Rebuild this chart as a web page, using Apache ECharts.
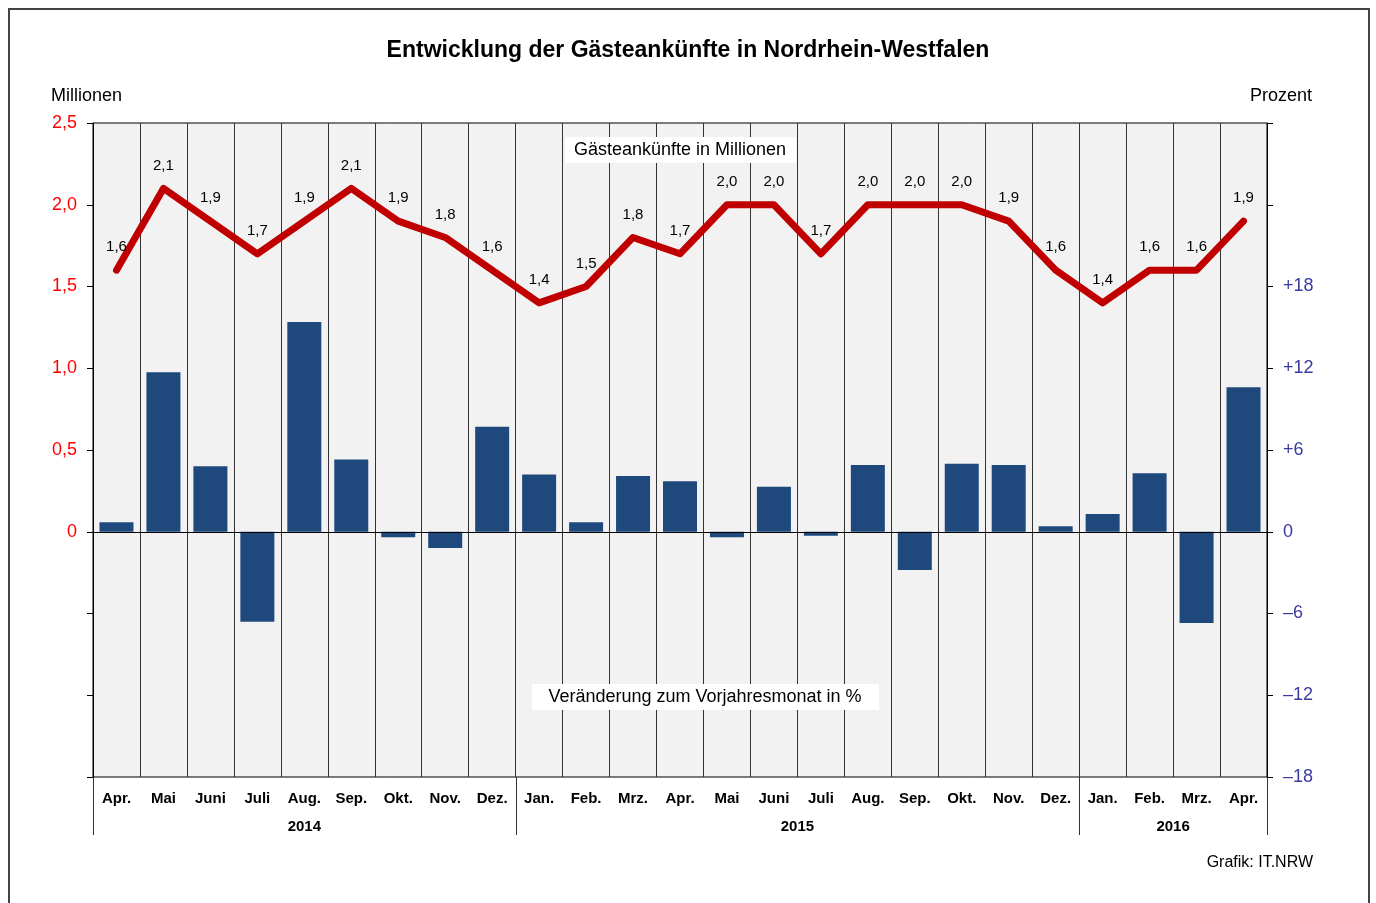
<!DOCTYPE html>
<html lang="de">
<head>
<meta charset="utf-8">
<title>Gästeankünfte NRW</title>
<script src="https://cdn.jsdelivr.net/npm/echarts@6/dist/echarts.min.js"></script>
<style>
  html, body { margin: 0; padding: 0; background: #fff; }
  #main { width: 1376px; height: 903px; }
</style>
</head>
<body>
<div id="main"></div>
<script>
// Monate April 2014 bis April 2016
var months = ['Apr.', 'Mai', 'Juni', 'Juli', 'Aug.', 'Sep.', 'Okt.', 'Nov.', 'Dez.',
  'Jan.', 'Feb.', 'Mrz.', 'Apr.', 'Mai', 'Juni', 'Juli', 'Aug.', 'Sep.', 'Okt.', 'Nov.', 'Dez.',
  'Jan.', 'Feb.', 'Mrz.', 'Apr.'];
// Gästeankünfte in Millionen
var arrivals = [1.6, 2.1, 1.9, 1.7, 1.9, 2.1, 1.9, 1.8, 1.6,
  1.4, 1.5, 1.8, 1.7, 2.0, 2.0, 1.7, 2.0, 2.0, 2.0, 1.9, 1.6,
  1.4, 1.6, 1.6, 1.9];
// Veränderung zum Vorjahresmonat in %
var change = [0.7, 11.7, 4.8, -6.6, 15.4, 5.3, -0.4, -1.2, 7.7,
  4.2, 0.7, 4.1, 3.7, -0.4, 3.3, -0.3, 4.9, -2.8, 5.0, 4.9, 0.4,
  1.3, 4.3, -6.7, 10.6];
// Jahre und Grenzen (Monatsindex)
var years = ['2014', '2015', '2016'];
var yearBounds = [0, 9, 21, 25];

var font = 'Liberation Sans, Arial, sans-serif';
var yearCenters = [];
for (var i = 0; i < years.length; i++) {
  yearCenters.push((yearBounds[i] + yearBounds[i + 1]) / 2);
}

var myChart = echarts.init(document.getElementById('main'));

var option = {
  animation: false,
  backgroundColor: '#fff',
  textStyle: { fontFamily: font },
  title: {
    text: 'Entwicklung der Gästeankünfte in Nordrhein-Westfalen',
    left: 'center',
    top: 34,
    textStyle: { fontSize: 23, fontWeight: 'bold', color: '#000', fontFamily: font }
  },
  grid: {
    left: 93, right: 109, top: 123, bottom: 126,
    show: true, backgroundColor: '#f2f2f2', borderColor: '#000', borderWidth: 1
  },
  xAxis: [{
    type: 'category',
    data: months,
    position: 'bottom',
    axisLine: { show: true, lineStyle: { color: '#000' } },
    axisTick: { show: false },
    splitLine: { show: true, lineStyle: { color: '#333', width: 1 } },
    axisLabel: { margin: 14, fontSize: 15, fontWeight: 'bold', color: '#000', fontFamily: font }
  }, {
    type: 'value',
    min: 0, max: 25,
    position: 'bottom',
    axisLine: { show: false },
    splitLine: { show: false },
    axisTick: { show: false },
    axisLabel: {
      show: true, customValues: yearCenters, margin: 42,
      fontSize: 15, fontWeight: 'bold', color: '#000', fontFamily: font,
      formatter: function (v) {
        var idx = yearCenters.indexOf(v);
        return idx >= 0 ? years[idx] : '';
      }
    }
  }],
  yAxis: [{
    type: 'value',
    min: -1.5, max: 2.5, interval: 0.5,
    position: 'left',
    axisLine: { show: true, lineStyle: { color: '#000' } },
    axisTick: { show: true, length: 6, lineStyle: { color: '#000' } },
    splitLine: { show: false },
    axisLabel: {
      margin: 16, fontSize: 18, color: '#ff0000', fontFamily: font,
      formatter: function (v) {
        if (v < 0) return '';
        if (v === 0) return '0';
        return v.toFixed(1).replace('.', ',');
      }
    }
  }, {
    type: 'value',
    min: -18, max: 30, interval: 6,
    position: 'right',
    axisLine: { show: true, lineStyle: { color: '#000' } },
    axisTick: { show: true, length: 6, lineStyle: { color: '#000' } },
    splitLine: { show: false },
    axisLabel: {
      margin: 16, fontSize: 18, color: '#3a3aa0', fontFamily: font,
      formatter: function (v) {
        if (v > 18) return '';
        if (v === 0) return '0';
        return v > 0 ? '+' + v : '\u2013' + Math.abs(v);
      }
    }
  }],
  series: [{
    name: 'Veränderung',
    type: 'bar',
    xAxisIndex: 0,
    yAxisIndex: 1,
    data: change,
    barWidth: 34,
    itemStyle: { color: '#1f497d' },
    markLine: {
      silent: true,
      symbol: 'none',
      label: { show: false },
      lineStyle: { color: '#000', width: 1, type: 'solid' },
      data: [{ yAxis: 0 }]
    },
    z: 2
  }, {
    name: 'Gästeankünfte',
    type: 'line',
    xAxisIndex: 0,
    yAxisIndex: 0,
    data: arrivals,
    symbol: 'circle',
    symbolSize: 1,
    showSymbol: true,
    itemStyle: { color: '#c00000' },
    lineStyle: { color: '#c00000', width: 7, cap: 'round', join: 'round' },
    label: {
      show: true, position: 'top', distance: 15,
      fontSize: 15, color: '#000', fontFamily: font,
      formatter: function (p) { return p.value.toFixed(1).replace('.', ','); }
    },
    labelLayout: { hideOverlap: false },
    z: 5
  }],
  graphic: [{
    type: 'rect',
    shape: { x: 9, y: 9, width: 1360, height: 910 },
    style: { fill: null, stroke: '#444', lineWidth: 2 },
    silent: true
  }, {
    type: 'text', left: 51, top: 87,
    style: { text: 'Millionen', fontSize: 18, fill: '#000', fontFamily: font }
  }, {
    type: 'text', right: 64, top: 87,
    style: { text: 'Prozent', fontSize: 18, fill: '#000', fontFamily: font }
  }, {
    type: 'text', right: 63, top: 855,
    style: { text: 'Grafik: IT.NRW', fontSize: 16, fill: '#000', fontFamily: font }
  }, {
    type: 'rect', shape: { x: 565, y: 137, width: 231, height: 26 },
    style: { fill: '#fff' }, z: 10
  }, {
    type: 'text', x: 680, y: 150, z: 11,
    style: { text: 'Gästeankünfte in Millionen', fontSize: 18, fill: '#000', fontFamily: font, align: 'center', verticalAlign: 'middle' }
  }, {
    type: 'rect', shape: { x: 532, y: 684, width: 347, height: 26 },
    style: { fill: '#fff' }, z: 10
  }, {
    type: 'text', x: 705, y: 697, z: 11,
    style: { text: 'Veränderung zum Vorjahresmonat in %', fontSize: 18, fill: '#000', fontFamily: font, align: 'center', verticalAlign: 'middle' }
  }]
};

myChart.setOption(option);

// Jahrestrenner unter der Achse
var bottomY = myChart.convertToPixel({ yAxisIndex: 1 }, -18);
var sepLines = yearBounds.map(function (b, k) {
  var x = Math.round(myChart.convertToPixel({ xAxisIndex: 1 }, b)) + 0.5;
  return {
    type: 'line', silent: true, id: 'yearSep' + k,
    shape: { x1: x, y1: bottomY, x2: x, y2: bottomY + 58 },
    style: { stroke: '#333', lineWidth: 1 }
  };
});
myChart.setOption({ graphic: sepLines });
</script>
</body>
</html>
